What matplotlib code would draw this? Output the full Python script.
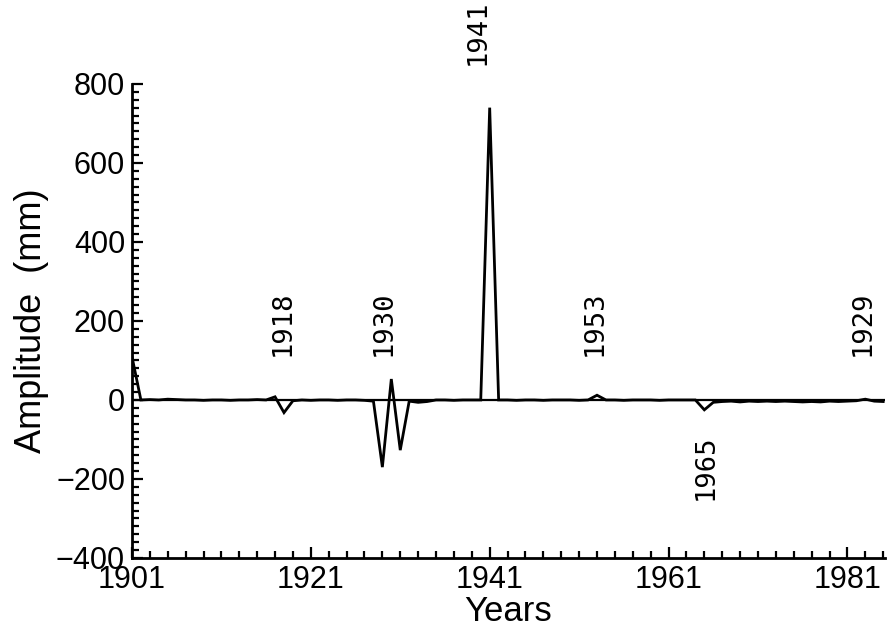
import numpy as np
import matplotlib
matplotlib.use("Agg")
import matplotlib.pyplot as plt
from matplotlib.ticker import FixedLocator, MultipleLocator

# Annual amplitude series (mm)
years = np.arange(1901, 1986)
amplitude = [
    110, 0, 1, 0, 2, 1, 0, 0, -1, 0,          # 1901-1910
    0, -1, 0, 0, 1, 0, 8, -32, -2, 0,         # 1911-1920
    -1, 0, 0, -1, 0, 0, -1, -3, -170, 53,     # 1921-1930
    -127, -3, -6, -4, 0, 0, -1, 0, 0, 0,      # 1931-1940
    740, 0, 0, -1, 0, 0, -1, 0, 0, 0,         # 1941-1950
    -1, 0, 12, 0, 0, -1, 0, 0, 0, -1,         # 1951-1960
    0, 0, 0, 0, -25, -6, -4, -3, -5, -3,      # 1961-1970
    -4, -3, -4, -3, -4, -5, -4, -5, -3, -4,   # 1971-1980
    -3, -2, 2, -3, -4,                        # 1981-1985
]

# Year annotations along the trace
event_labels = ["1918", "1930", "1941", "1953", "1965", "1929"]
event_x = [1917.8, 1929.1, 1939.7, 1952.7, 1965.2, 1982.7]
event_y = [195, 195, 932, 195, -170, 195]

fig = plt.figure(figsize=(8.88, 6.35), dpi=100)
ax = fig.add_axes([0.1486, 0.1213, 0.848, 0.7465])

ax.plot(years, amplitude, color="black", lw=2.0, solid_joinstyle="miter")
ax.axhline(0, color="black", lw=1.6, zorder=1)

for lab, x, y in zip(event_labels, event_x, event_y):
    ax.text(x, y, lab, rotation=90, ha="center", va="center",
            fontsize=19.5, family="DejaVu Sans Mono", clip_on=False)

ax.set_xlim(1901, 1985.2)
ax.set_ylim(-400, 800)

ax.xaxis.set_major_locator(FixedLocator([1901, 1921, 1941, 1961, 1981]))
ax.xaxis.set_minor_locator(FixedLocator(np.arange(1901, 1986, 2)))
ax.yaxis.set_major_locator(MultipleLocator(200))
ax.yaxis.set_minor_locator(MultipleLocator(20))

ax.tick_params(which="both", direction="in", width=1.6, colors="black",
               labelsize=22, pad=5)
ax.tick_params(which="major", length=8)
ax.tick_params(which="minor", length=5)
for lab in ax.get_xticklabels() + ax.get_yticklabels():
    lab.set_family("Liberation Sans")

for side in ("top", "right"):
    ax.spines[side].set_visible(False)
for side in ("left", "bottom"):
    ax.spines[side].set_linewidth(2)

ax.set_xlabel("Years", fontsize=25, family="Liberation Sans", labelpad=0)
ax.set_ylabel("Amplitude  (mm)", fontsize=26, family="Liberation Sans", labelpad=5)

fig.savefig("out.png", dpi=100)
